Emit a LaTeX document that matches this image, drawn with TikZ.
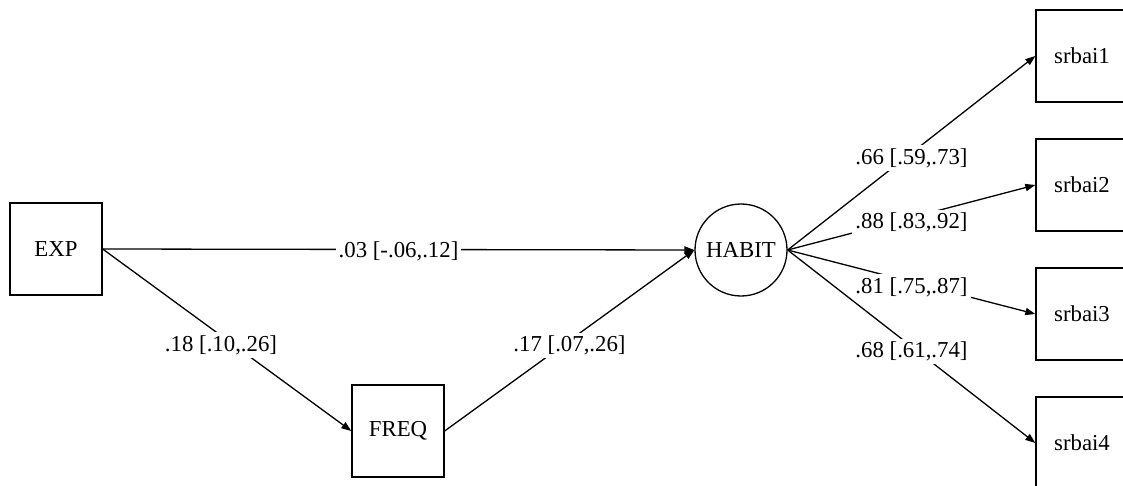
\documentclass[tikz,border=0pt]{standalone}
\usepackage{fontspec}
\setmainfont{Liberation Serif}
\usetikzlibrary{arrows.meta}

\begin{document}
\begin{tikzpicture}[every node/.style={font=\rmfamily\fontsize{11.4}{13}\selectfont}, x=0.5pt, y=-0.5pt,
	obs/.style={draw, line width=0.65pt, minimum size=46pt, inner sep=0pt},
	lat/.style={draw, circle, line width=0.65pt, minimum size=46pt, inner sep=0pt},
	path/.style={line width=0.65pt, -{Triangle[length=5pt, width=3.6pt]}},
	coef/.style={pos=0.5, fill=white, inner sep=1.5pt, yshift=-2.5pt}]
	\useasboundingbox (0,0) rectangle (1123,486);
	\node[obs] (exp) at (56,249) {EXP};
	\node[obs] (freq) at (398,431) {FREQ};
	\node[lat] (habit) at (741,250) {HABIT};
	\node[obs] (srbai1) at (1082,56) {srbai1};
	\node[obs] (srbai2) at (1082,185) {srbai2};
	\node[obs] (srbai3) at (1082,314) {srbai3};
	\node[obs] (srbai4) at (1082,443) {srbai4};
	
	\draw[path] (exp.east) -- node[coef, yshift=1.5pt] {.03 [-.06,.12]} (habit.west);
	\draw[path] (exp.east) -- node[coef, xshift=-3pt] {.18 [.10,.26]} (freq.west);
	\draw[path] (freq.east) -- node[coef] {.17 [.07,.26]} (habit.west);
	\draw[path] (habit.east) -- node[coef] {.66 [.59,.73]} (srbai1.west);
	\draw[path] (habit.east) -- node[coef] {.88 [.83,.92]} (srbai2.west);
	\draw[path] (habit.east) -- node[coef] {.81 [.75,.87]} (srbai3.west);
	\draw[path] (habit.east) -- node[coef] {.68 [.61,.74]} (srbai4.west);
\end{tikzpicture}
\end{document}
